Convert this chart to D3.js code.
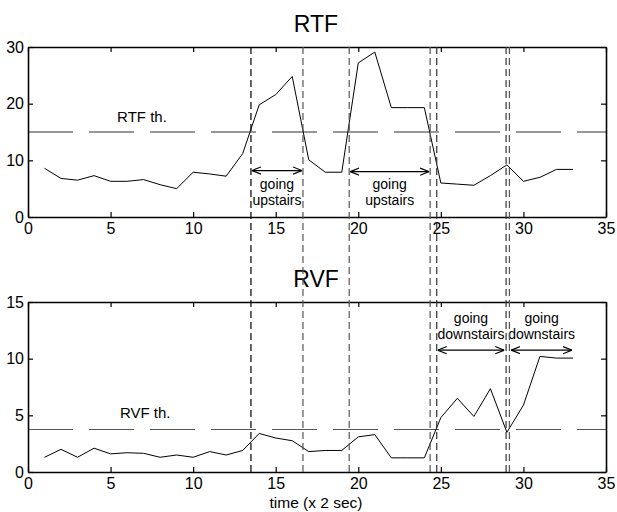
<!DOCTYPE html>
<html>
<head>
<meta charset="utf-8">
<script src="https://cdn.jsdelivr.net/npm/d3@7"></script>
<style>
  body { margin: 0; background: #fff; }
  text { font-family: "Liberation Sans", Arial, sans-serif; fill: #000; }
</style>
</head>
<body>
<div id="chart-area"></div>
<script>
// sample index (x 2 sec)
const time = [1, 2, 3, 4, 5, 6, 7, 8, 9, 10, 11, 12, 13, 14, 15, 16, 17,
  18, 19, 20, 21, 22, 23, 24, 25, 26, 27, 28, 29, 30, 31, 32, 33];

const rtf = [8.6, 6.8, 6.5, 7.3, 6.3, 6.3, 6.6, 5.7, 5.0, 7.9, 7.6, 7.2, 11.2,
  19.8, 21.6, 24.8, 10.1, 7.9, 7.9, 27.2, 29.1, 19.3, 19.3, 19.3, 6.0, 5.8,
  5.6, 7.3, 9.2, 6.3, 7.0, 8.4, 8.4];

const rvf = [1.3, 2.0, 1.3, 2.1, 1.6, 1.7, 1.65, 1.3, 1.5, 1.3, 1.8, 1.5, 1.9,
  3.4, 3.0, 2.76, 1.8, 1.9, 1.9, 3.1, 3.3, 1.25, 1.25, 1.25, 4.8, 6.5, 4.9,
  7.35, 3.5, 5.9, 10.2, 10.05, 10.05];

const rtfThreshold = 15;
const rvfThreshold = 3.75;

// segment boundaries (vertical dashed lines)
const boundaries = [13.5, 16.65, 19.45, 24.35, 24.75, 28.95, 29.15];
const boundaryColors = ['#000', '#555', '#555', '#555', '#333', '#333', '#555'];

const xTicks = [0, 5, 10, 15, 20, 25, 30, 35];
const rtfTicks = [0, 10, 20, 30];
const rvfTicks = [0, 5, 10, 15];

// activity annotations: arrow span, arrow height, label lines
const rtfNotes = [
  { from: 13.5, to: 16.65, y: 8.2, lines: ['going', 'upstairs'] },
  { from: 19.45, to: 24.35, y: 8.0, lines: ['going', 'upstairs'] }
];
const rvfNotes = [
  { from: 24.75, to: 28.9, y: 10.75, lines: ['going', 'downstairs'] },
  { from: 29.2, to: 33, y: 10.75, lines: ['going', 'downstairs'] }
];

const W = 617, H = 512;
const left = 28, right = 606;

const svg = d3.select('#chart-area')
  .append('svg')
  .attr('width', W)
  .attr('height', H);

svg.append('rect').attr('width', W).attr('height', H).attr('fill', '#fff');

svg.append('defs').append('marker')
  .attr('id', 'arrow')
  .attr('viewBox', '0 0 10 10')
  .attr('refX', 10).attr('refY', 5)
  .attr('markerWidth', 9).attr('markerHeight', 9)
  .attr('markerUnits', 'userSpaceOnUse')
  .attr('orient', 'auto-start-reverse')
  .append('path')
  .attr('d', 'M0,1 L10,5 L0,9')
  .attr('fill', 'none')
  .attr('stroke', '#000')
  .attr('stroke-width', 1.3);

const x = d3.scaleLinear().domain([0, 35]).range([left, right]);

function drawPanel(opts) {
  const y = d3.scaleLinear().domain(opts.domain).range([opts.bottom, opts.top]);
  const g = svg.append('g');

  // threshold
  g.append('line')
    .attr('x1', x(0)).attr('x2', x(35))
    .attr('y1', y(opts.threshold)).attr('y2', y(opts.threshold))
    .attr('stroke', opts.thColor)
    .attr('stroke-width', opts.thWidth)
    .attr('stroke-dasharray', '45,16');

  g.append('text')
    .attr('x', x(opts.thLabelX)).attr('y', opts.thLabelY)
    .attr('text-anchor', 'middle')
    .attr('font-size', '15px')
    .text(opts.thLabel);

  // series
  const line = d3.line()
    .x((d, i) => x(time[i]))
    .y(d => y(d));
  g.append('path')
    .datum(opts.values)
    .attr('d', line)
    .attr('fill', 'none')
    .attr('stroke', '#000')
    .attr('stroke-width', 1);

  // axes with inward ticks on all four sides
  g.append('g')
    .attr('transform', 'translate(0,' + opts.bottom + ')')
    .call(d3.axisBottom(x).tickValues(xTicks).tickSize(-5).tickPadding(6).tickSizeOuter(0));
  g.append('g')
    .attr('transform', 'translate(0,' + opts.top + ')')
    .call(d3.axisTop(x).tickValues(xTicks).tickSize(-5).tickFormat('').tickSizeOuter(0));
  g.append('g')
    .attr('transform', 'translate(' + left + ',0)')
    .call(d3.axisLeft(y).tickValues(opts.ticks).tickSize(-5).tickPadding(4).tickSizeOuter(0));
  g.append('g')
    .attr('transform', 'translate(' + right + ',0)')
    .call(d3.axisRight(y).tickValues(opts.ticks).tickSize(-5).tickFormat('').tickSizeOuter(0));

  g.selectAll('.tick text')
    .attr('font-size', '16px')
    .attr('font-family', '"Liberation Sans", Arial, sans-serif');
  g.selectAll('.domain').attr('stroke', '#000').attr('stroke-width', 1.6);
  g.selectAll('.tick line').attr('stroke', '#000').attr('stroke-width', 1.2);

  // annotations
  opts.notes.forEach((n) => {
    g.append('line')
      .attr('x1', x(n.from) + 1).attr('x2', x(n.to) - 1)
      .attr('y1', y(n.y)).attr('y2', y(n.y))
      .attr('stroke', '#000')
      .attr('stroke-width', 1.2)
      .attr('marker-start', 'url(#arrow)')
      .attr('marker-end', 'url(#arrow)');
    const t = g.append('text')
      .attr('x', x((n.from + n.to) / 2))
      .attr('text-anchor', 'middle')
      .attr('font-size', '14px');
    n.lines.forEach((s, i) => {
      t.append('tspan')
        .attr('x', x((n.from + n.to) / 2))
        .attr('y', opts.noteY[i])
        .text(s);
    });
  });

  svg.append('text')
    .attr('x', 316).attr('y', opts.titleY)
    .attr('text-anchor', 'middle')
    .attr('font-size', '23px')
    .text(opts.title);

  return y;
}

drawPanel({
  title: 'RTF', titleY: 32,
  values: rtf, domain: [0, 30], ticks: rtfTicks,
  top: 47, bottom: 217,
  threshold: rtfThreshold, thLabel: 'RTF th.', thLabelX: 6.9, thLabelY: 122,
  thColor: '#777', thWidth: 1.5,
  notes: rtfNotes, noteY: [189, 205]
});

drawPanel({
  title: 'RVF', titleY: 287,
  values: rvf, domain: [0, 15], ticks: rvfTicks,
  top: 302, bottom: 472,
  threshold: rvfThreshold, thLabel: 'RVF th.', thLabelX: 7.1, thLabelY: 418,
  thColor: '#555', thWidth: 1.1,
  notes: rvfNotes, noteY: [323, 339]
});

// boundaries span both panels
svg.append('g')
  .selectAll('line')
  .data(boundaries)
  .enter()
  .append('line')
  .attr('x1', d => x(d)).attr('x2', d => x(d))
  .attr('y1', 47).attr('y2', 472)
  .attr('stroke', (d, i) => boundaryColors[i])
  .attr('stroke-width', 1.2)
  .attr('stroke-dasharray', '7,4');

svg.append('text')
  .attr('x', 316).attr('y', 508)
  .attr('text-anchor', 'middle')
  .attr('font-size', '15.5px')
  .text('time (x 2 sec)');
</script>
</body>
</html>
